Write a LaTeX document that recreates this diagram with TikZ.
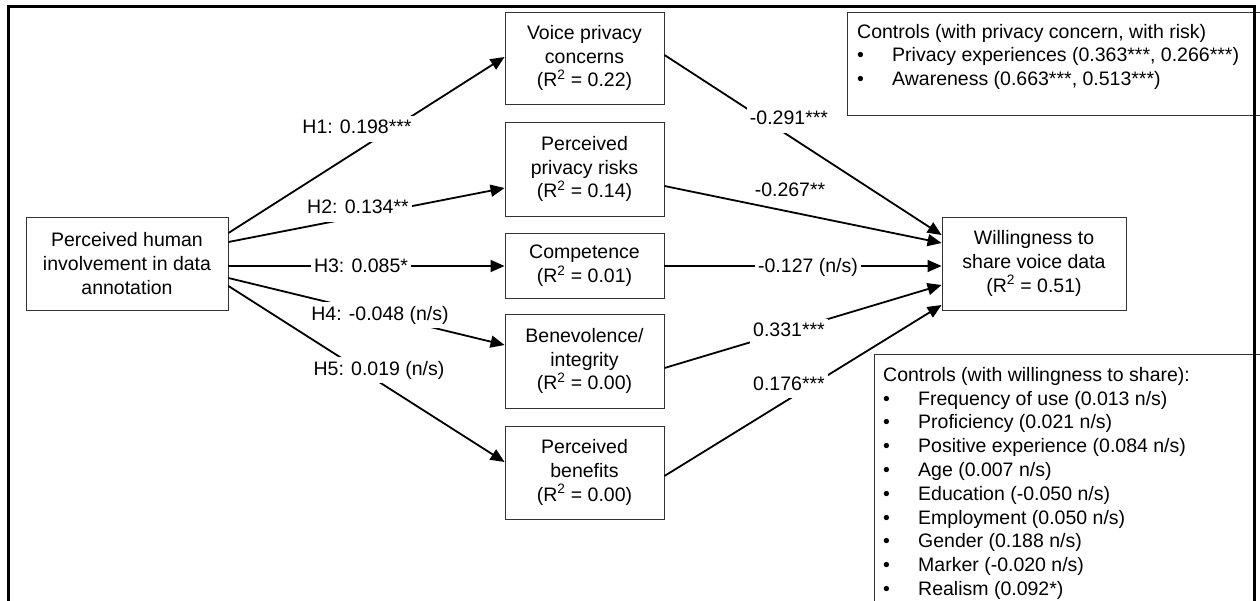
\documentclass[tikz,border=0pt]{standalone}
\usepackage{fontspec}
\setmainfont{Liberation Sans}
\usetikzlibrary{arrows.meta}
\begin{document}
\begin{tikzpicture}[x=1pt,y=-1pt,
  every node/.style={font=\fontsize{19.5}{23.8}\selectfont},
  box/.style={draw=black!80, line width=0.9pt, align=center, inner sep=0pt},
  midbox/.style={box, minimum width=159pt},
  ctrlbox/.style={draw=black!80, line width=0.9pt, inner sep=0pt, anchor=north west},
  ctrltext/.style={anchor=north west, inner sep=0pt, align=left},
  link/.style={line width=1.8pt, -{Triangle[length=14pt,width=12pt]}},
  lab/.style={fill=white, inner xsep=3pt, inner ysep=4pt, text height=14pt, text depth=4pt},
  frame/.style={line width=3pt}
]
\clip (0,0) rectangle (1260,601);
\fill[white] (0,0) rectangle (1260,601);

% constructs
\node[box, minimum width=202pt, minimum height=93pt] (hum) at (127,263.5)
  {Perceived human\\involvement in data\\annotation};
\node[midbox, minimum height=92pt] (vpc) at (584.5,58)
  {Voice privacy\\concerns\\(R\textsuperscript{2} = 0.22)};
\node[midbox, minimum height=94pt] (ppr) at (584.5,169)
  {Perceived\\privacy risks\\(R\textsuperscript{2} = 0.14)};
\node[midbox, minimum height=65pt] (com) at (584.5,266)
  {Competence\\(R\textsuperscript{2} = 0.01)};
\node[midbox, minimum height=94pt] (ben) at (584.5,361)
  {Benevolence/\\integrity\\(R\textsuperscript{2} = 0.00)};
\node[midbox, minimum height=93pt] (pbf) at (584.5,472.5)
  {Perceived\\benefits\\(R\textsuperscript{2} = 0.00)};
\node[box, minimum width=184pt, minimum height=93pt] (wsv) at (1034,263.5)
  {Willingness to\\share voice data\\(R\textsuperscript{2} = 0.51)};

% hypothesised paths
\draw[link] ([yshift=30.5pt]hum.east) -- ([yshift=1pt]vpc.west);
\draw[link] ([yshift=21.5pt]hum.east) -- ([yshift=-19pt]ppr.west);
\draw[link] ([yshift=-2.5pt]hum.east) -- (com.west);
\draw[link] ([yshift=-14.5pt]hum.east) -- ([yshift=16pt]ben.west);
\draw[link] ([yshift=-22.5pt]hum.east) -- ([yshift=10.5pt]pbf.west);

% paths to willingness to share
\draw[link] ([yshift=3pt]vpc.east) -- ([yshift=28.5pt]wsv.west);
\draw[link] ([yshift=-17pt]ppr.east) -- ([yshift=20.5pt]wsv.west);
\draw[link] (com.east) -- ([yshift=-2.5pt]wsv.west);
\draw[link] ([yshift=-7pt]ben.east) -- ([yshift=-21.5pt]wsv.west);
\draw[link] ([yshift=-3.5pt]pbf.east) -- ([yshift=-41.5pt]wsv.west);

% path coefficients
\node[lab] (l1) at (357,129) {H1: 0.198***};
\node[lab] (l2) at (358,209) {H2: 0.134**};
\node[lab] (l3) at (361,268) {H3: 0.085*};
\node[lab] (l4) at (380,315) {H4: -0.048 (n/s)};
\node[lab] (l5) at (379,370) {H5: 0.019 (n/s)};
\node[lab] (r1) at (789,120) {-0.291***};
\node[lab, inner ysep=1pt] (r2) at (790,192) {-0.267**};
\node[lab] (r3) at (808,268) {-0.127 (n/s)};
\node[lab] (r4) at (789,332) {0.331***};
\node[lab] (r5) at (789,385) {0.176***};

% control variables
\node[ctrlbox, minimum width=460pt, minimum height=103pt] (ctlA) at (847,12) {};
\node[ctrltext] (ctlAtext) at (857,22)
  {\rule{0pt}{16pt}Controls (with privacy concern, with risk)\\
   \makebox[35pt][l]{\textbullet}Privacy experiences (0.363***, 0.266***)\\
   \makebox[35pt][l]{\textbullet}Awareness (0.663***, 0.513***)};

\node[ctrlbox, minimum width=450pt, minimum height=300pt] (ctlB) at (874,354) {};
\node[ctrltext] (ctlBtext) at (883,365)
  {\rule{0pt}{16pt}Controls (with willingness to share):\\
   \makebox[35pt][l]{\textbullet}Frequency of use (0.013 n/s)\\
   \makebox[35pt][l]{\textbullet}Proficiency (0.021 n/s)\\
   \makebox[35pt][l]{\textbullet}Positive experience (0.084 n/s)\\
   \makebox[35pt][l]{\textbullet}Age (0.007 n/s)\\
   \makebox[35pt][l]{\textbullet}Education (-0.050 n/s)\\
   \makebox[35pt][l]{\textbullet}Employment (0.050 n/s)\\
   \makebox[35pt][l]{\textbullet}Gender (0.188 n/s)\\
   \makebox[35pt][l]{\textbullet}Marker (-0.020 n/s)\\
   \makebox[35pt][l]{\textbullet}Realism (0.092*)};

% outer frame
\draw[frame] (8,610) -- (8,7) -- (1254,7) -- (1254,610);
\end{tikzpicture}
\end{document}
